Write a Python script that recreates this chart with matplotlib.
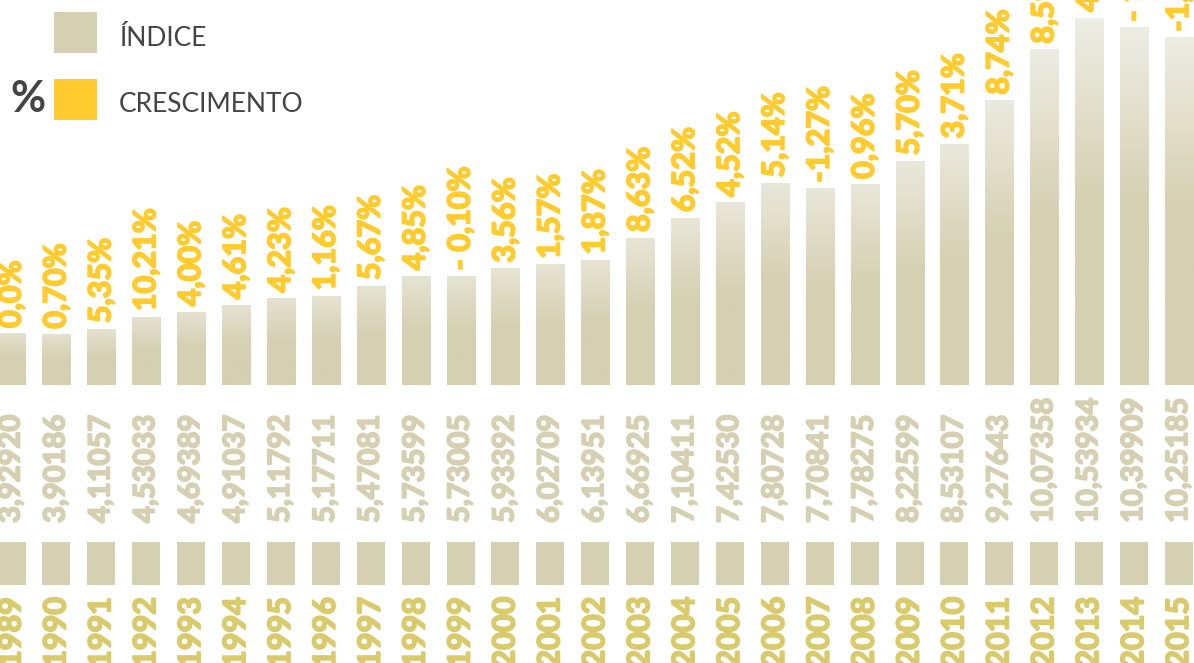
import numpy as np
import matplotlib.pyplot as plt
import matplotlib.transforms as mtransforms
import matplotlib.patheffects as pe
from matplotlib.colors import LinearSegmentedColormap, to_rgb
from matplotlib.patches import Rectangle

years = ["1989", "1990", "1991", "1992", "1993", "1994", "1995", "1996", "1997",
         "1998", "1999", "2000", "2001", "2002", "2003", "2004", "2005", "2006",
         "2007", "2008", "2009", "2010", "2011", "2012", "2013", "2014", "2015"]
indice = [3.92920, 3.90186, 4.11057, 4.53033, 4.69389, 4.91037, 5.11792, 5.17711,
          5.47081, 5.73599, 5.73005, 5.93392, 6.02709, 6.13951, 6.66925, 7.10411,
          7.42530, 7.80728, 7.70841, 7.78275, 8.22599, 8.53107, 9.27643, 10.07358,
          10.53934, 10.39909, 10.25185]
indice_txt = ["3,92920", "3,90186", "4,11057", "4,53033", "4,69389", "4,91037",
              "5,11792", "5,17711", "5,47081", "5,73599", "5,73005", "5,93392",
              "6,02709", "6,13951", "6,66925", "7,10411", "7,42530", "7,80728",
              "7,70841", "7,78275", "8,22599", "8,53107", "9,27643", "10,07358",
              "10,53934", "10,39909", "10,25185"]
crescimento = ["0,0%", "0,70%", "5,35%", "10,21%", "4,00%", "4,61%", "4,23%", "1,16%",
               "5,67%", "4,85%", "- 0,10%", "3,56%", "1,57%", "1,87%", "8,63%", "6,52%",
               "4,52%", "5,14%", "-1,27%", "0,96%", "5,70%", "3,71%", "8,74%", "8,59%",
               "4,62%", "- 1,33%", "-1,42%"]

BAR_BOTTOM = "#d5d0b1"
YELLOW = "#ffcb2e"
GOLD = "#d9cb6c"
GREY_TXT = "#d5d0b1"
DARK = "#444444"
FONT = ["Lato", "DejaVu Sans"]


def thick(c):
    return [pe.withStroke(linewidth=1.3, foreground=c)]


W, H = 1194, 663
fig = plt.figure(figsize=(W / 100, H / 100), dpi=100)
fig.patch.set_facecolor("white")

# bars occupy the top 385 px of the picture
ax = fig.add_axes([0, 1 - 385 / H, 1, 385 / H])
ax.set_yscale("function", functions=(lambda v: np.sign(v) * v ** 2,
                                     lambda v: np.sqrt(np.abs(v))))
x = np.arange(len(years))
step = 44.9
ax.set_xlim(-11.5 / step, len(years) - 1 + (W - 1179) / step)
ax.set_ylim(0, 10.795)
ax.axis("off")

width = 28 / step
bars = ax.bar(x, indice, width=width, color=BAR_BOTTOM, linewidth=0)

# vertical gradient inside every bar
grad = np.linspace(0, 1, 256).reshape(-1, 1)
to_ax = ax.transAxes.inverted()
for i, b in enumerate(bars):
    x0, y0 = to_ax.transform(ax.transData.transform((b.get_x(), 0)))
    x1, y1 = to_ax.transform(ax.transData.transform((b.get_x() + width, indice[i])))
    frac = y1
    top = np.array(to_rgb("#e2dfcc")) * (1 - frac) + np.array(to_rgb("#efeee6")) * frac
    cmap = LinearSegmentedColormap.from_list("g", [to_rgb(BAR_BOTTOM), to_rgb(BAR_BOTTOM), top],
                                             N=256)
    ax.imshow(grad, cmap=cmap, origin="lower", aspect="auto", interpolation="bilinear",
              extent=[x0, x1, y0, y1], transform=ax.transAxes, zorder=3)

# growth labels above bars
for i, b in enumerate(bars):
    ax.annotate(crescimento[i], (x[i], indice[i]), xytext=(0, 6), textcoords="offset pixels",
                rotation=90, ha="center", va="bottom", color=YELLOW, fontsize=22,
                fontweight="bold", family=FONT, annotation_clip=False, zorder=4,
                path_effects=thick(YELLOW))

blend = mtransforms.blended_transform_factory(ax.transData, fig.transFigure)
for i in range(len(years)):
    fig.text(x[i], 1 - 523 / H, indice_txt[i], transform=blend, rotation=90,
             ha="center", va="bottom", color=GREY_TXT, fontsize=21, fontweight="bold",
             family=FONT, path_effects=thick(GREY_TXT))
    fig.patches.append(Rectangle((x[i] - width / 2, 1 - 585 / H), width, 43 / H,
                                 transform=blend, color=BAR_BOTTOM, linewidth=0))
    fig.text(x[i], 1 - 597 / H, years[i], transform=blend, rotation=90,
             ha="center", va="top", color=GOLD, fontsize=22, fontweight="bold",
             family=FONT, path_effects=thick(GOLD))

# legend
fig.patches.append(Rectangle((54 / W, 1 - 53 / H), 43 / W, 41 / H,
                             transform=fig.transFigure, color=BAR_BOTTOM, linewidth=0))
fig.patches.append(Rectangle((54 / W, 1 - 120 / H), 43 / W, 41 / H,
                             transform=fig.transFigure, color=YELLOW, linewidth=0))
fig.text(119 / W, 1 - 38 / H, "ÍNDICE", ha="left", va="center", color=DARK,
         fontsize=19, fontweight="normal", family=FONT)
fig.text(119 / W, 1 - 104 / H, "CRESCIMENTO", ha="left", va="center", color=DARK,
         fontsize=19, fontweight="normal", family=FONT)
fig.text(28 / W, 1 - 99 / H, "%", ha="center", va="center", color=DARK,
         fontsize=31, fontweight="bold", family=FONT)

fig.savefig("out.png", dpi=100)
